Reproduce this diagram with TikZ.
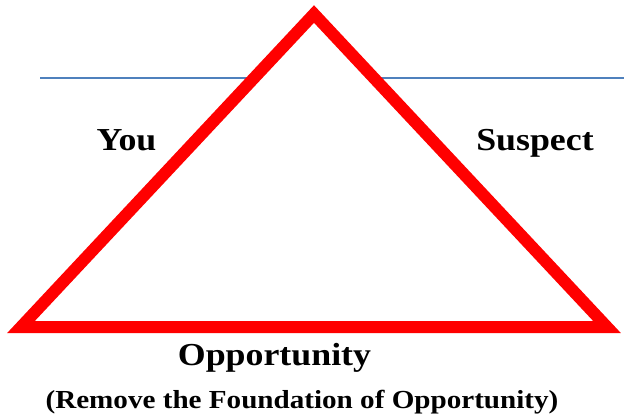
\documentclass[tikz,border=0pt]{standalone}
\usepackage{fontspec}
\setmainfont[FakeStretch=1.12]{Liberation Serif}
\definecolor{lineblue}{HTML}{4F81BD}
\definecolor{trired}{HTML}{FF0000}
\tikzset{
  biglabel/.style={anchor=base, inner sep=0pt, font=\fontsize{32}{36}\selectfont\bfseries},
  smalllabel/.style={anchor=base, inner sep=0pt, font=\fontsize{26}{30}\selectfont\bfseries},
  tri/.style={draw=trired, line width=12pt, line join=miter, fill=white},
  hline/.style={draw=lineblue, line width=2.5pt}
}
\begin{document}
\begin{tikzpicture}[x=1pt,y=-1pt]
\useasboundingbox (0,0) rectangle (624,418);
\coordinate (l1) at (40,78);
\coordinate (l2) at (624,78);
\coordinate (bl) at (21,327);
\coordinate (ap) at (314,14);
\coordinate (br) at (607,327);
\draw[hline] (l1) -- (l2);
\draw[tri] (bl) -- (ap) -- (br) -- cycle;
\node[biglabel] (you) at (126.5,150) {You};
\node[biglabel] (suspect) at (535,150) {Suspect};
\node[biglabel] (opp) at (274.5,365) {Opportunity};
\node[smalllabel] (remove) at (302,408) {(Remove the Foundation of Opportunity)};
\end{tikzpicture}
\end{document}
